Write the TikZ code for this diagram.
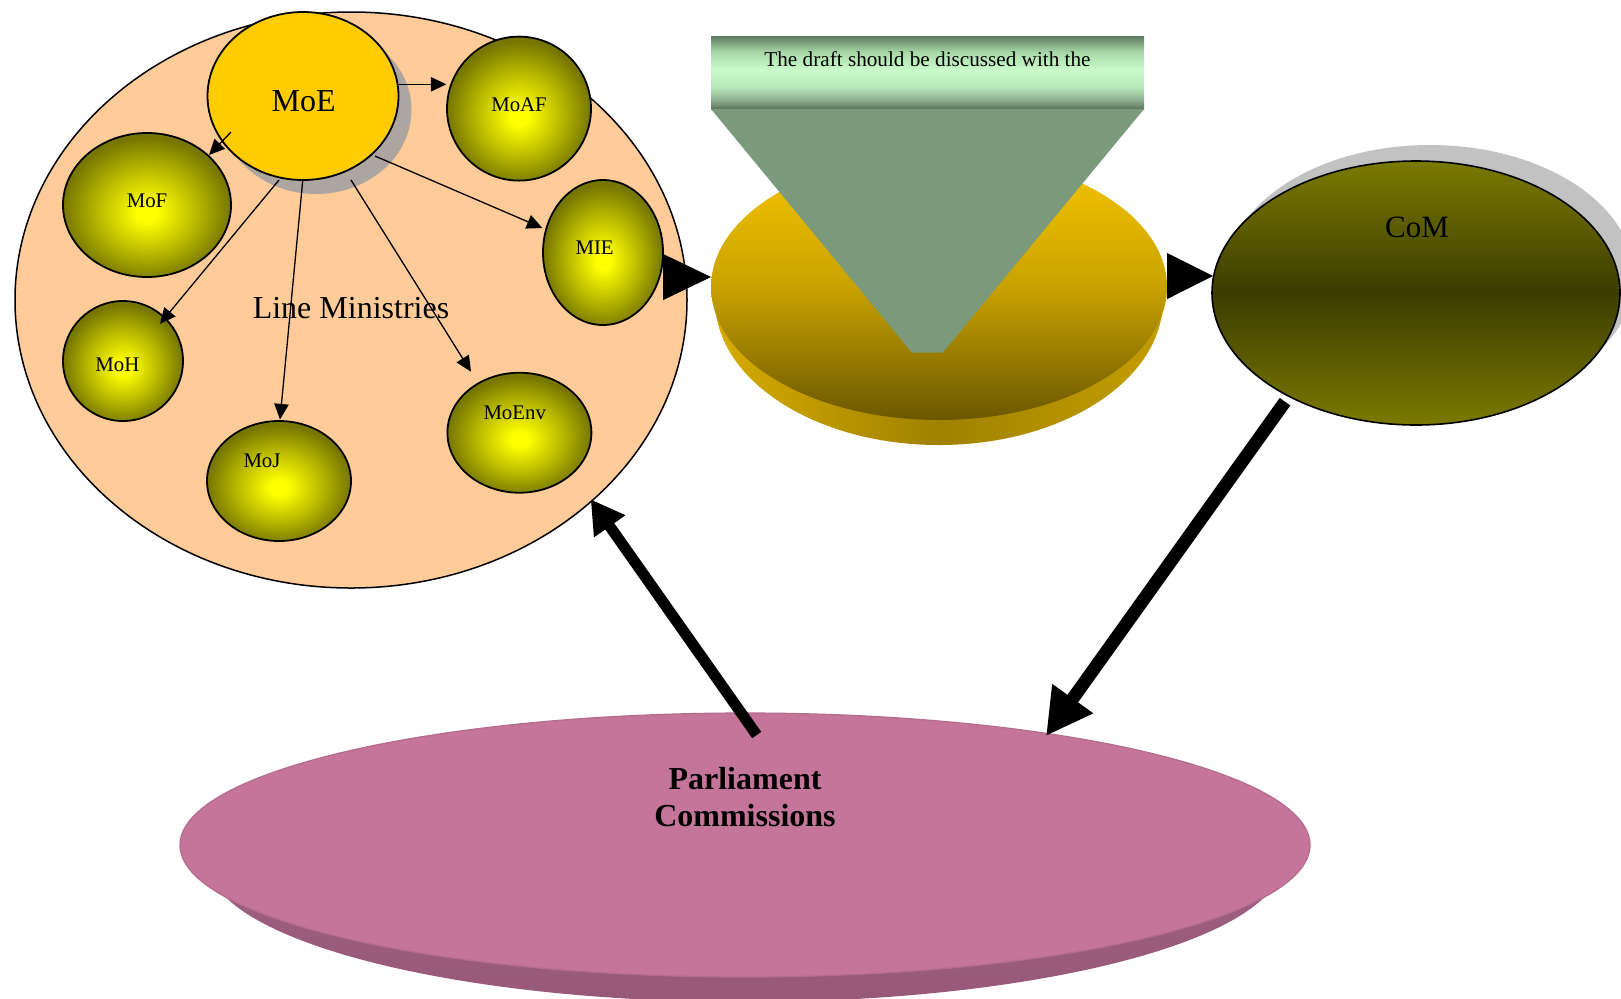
\documentclass[tikz,border=0pt]{standalone}
\usepackage{fontspec}
\setmainfont{Liberation Serif}
\usetikzlibrary{shapes.geometric,arrows.meta,calc}

% palette
\definecolor{peach}{HTML}{FFCC99}
\definecolor{moegold}{HTML}{FFCC00}
\definecolor{moeshadow}{HTML}{ADA5A0}
\definecolor{comshadow}{HTML}{C2C2C2}
\definecolor{minhi}{HTML}{FFFF00}
\definecolor{minmid}{HTML}{BDBD00}
\definecolor{minedge}{HTML}{767600}
\definecolor{funnelgreen}{HTML}{7A9A7B}
\definecolor{bnA}{HTML}{5C725D}
\definecolor{bnB}{HTML}{8CAC8C}
\definecolor{bnC}{HTML}{B8E8B8}
\definecolor{bnD}{HTML}{CAFBCA}
\definecolor{bnE}{HTML}{A8D8A8}
\definecolor{bnF}{HTML}{5E7A5E}
\definecolor{dtop}{HTML}{F7C600}
\definecolor{dmid}{HTML}{C9A200}
\definecolor{dbot}{HTML}{6B5700}
\definecolor{dsl}{HTML}{D6AC00}
\definecolor{dsm}{HTML}{A08200}
\definecolor{dsr}{HTML}{C49E00}
\definecolor{comedge}{HTML}{7A7A00}
\definecolor{commid}{HTML}{3C3C00}
\definecolor{parlface}{HTML}{C47599}
\definecolor{parledge}{HTML}{B46C8D}
\definecolor{parlsideA}{HTML}{A66888}
\definecolor{parlsideB}{HTML}{97587A}

% shadings
\pgfdeclareradialshading{minshade}{\pgfpoint{0bp}{-3bp}}{%
  color(0bp)=(minhi); color(3bp)=(minhi); color(14bp)=(minmid);
  color(25bp)=(minedge); color(50bp)=(minedge)}
\pgfdeclareverticalshading{bannershade}{100bp}{%
  color(0bp)=(bnA); color(25bp)=(bnA); color(31bp)=(bnB); color(40bp)=(bnC);
  color(52bp)=(bnD); color(64bp)=(bnE); color(75bp)=(bnF); color(100bp)=(bnF)}

\begin{document}
\begin{tikzpicture}[x=0.5pt, y=-0.5pt,
  every node/.style={inner sep=0pt, outer sep=0pt},
  oval/.style={ellipse, draw=black, line width=0.9pt},
  ministry/.style={oval, shading=minshade, shade},
  mtext/.style={font=\fontsize{10.4}{12}\selectfont, anchor=base},
  thinarrow/.style={line width=0.65pt, -{Triangle[length=7.8pt,width=7.2pt]}},
  wedge/.style={line width=0.5pt, -{Triangle[length=#1,width=23pt]}},
  bigarrow/.style={line width=#1, line cap=butt}
]
\useasboundingbox (0,0) rectangle (1621,998);
\fill[white] (0,0) rectangle (1621,998);
\clip (0,0) rectangle (1621,998);

% Parliament disk
\shade[top color=parlsideA, bottom color=parlsideB] (745,860) ellipse [x radius=538, y radius=142];
\node[ellipse, fill=parlface, draw=parledge, line width=0.6pt,
      minimum width=565pt, minimum height=132pt] (parl) at (745,845) {};
\node[font=\fontsize{16}{18.35}\selectfont\bfseries, align=center] (t-parl)
      at ($(parl)+(0,-48)$) {Parliament\\Commissions};

% Line ministries
\node[oval, fill=peach, line width=0.75pt, minimum width=336pt, minimum height=288pt] (lm) at (351,300) {};
\fill[moeshadow] (316,110) ellipse [x radius=95.5, y radius=84];
\node[oval, fill=moegold, minimum width=95.5pt, minimum height=84pt] (moe) at (303,96) {};
\node[ministry, minimum width=72pt, minimum height=72pt] (moaf) at (519,108.6) {};
\node[ministry, minimum width=84pt, minimum height=72pt] (mof) at (147,205) {};
\node[ministry, minimum width=60pt, minimum height=72.5pt] (mie) at (603,252.5) {};
\node[ministry, minimum width=60pt, minimum height=60pt] (moh) at (123,361) {};
\node[ministry, minimum width=72pt, minimum height=60pt] (moj) at (279,481) {};
\node[ministry, minimum width=72pt, minimum height=60pt] (moenv) at (519.4,432.7) {};

\node[font=\fontsize{16}{19}\selectfont, anchor=base] (t-lm) at ($(lm)+(0,18)$) {Line Ministries};
\node[font=\fontsize{16}{19}\selectfont, anchor=base] (t-moe) at ($(moe)+(0.7,15.7)$) {MoE};
\node[mtext] (t-moaf) at ($(moaf)+(0,2.4)$) {MoAF};
\node[mtext] (t-mof) at ($(mof)+(0,2)$) {MoF};
\node[mtext] (t-mie) at ($(mie)+(-8.4,2.3)$) {MIE};
\node[mtext] (t-moh) at ($(moh)+(-5.6,10)$) {MoH};
\node[mtext] (t-moj) at ($(moj)+(-17,-13.6)$) {MoJ};
\node[mtext] (t-moenv) at ($(moenv)+(-4.7,-13.2)$) {MoEnv};

\draw[thinarrow] ($(moe)+(95.7,-11.7)$) -- ($(moaf)+(-72.6,-24.3)$);
\draw[thinarrow] ($(moe)+(-72,36)$) -- ($(mof)+(62,-50)$);
\draw[thinarrow] ($(moe)+(-24,84)$) -- ($(moh)+(37,-37.2)$);
\draw[thinarrow] ($(moe)+(-0.3,85)$) -- ($(moj)+(1,-61.5)$);
\draw[thinarrow] ($(moe)+(48,84)$) -- ($(moenv)+(-48.4,-61)$);
\draw[thinarrow] ($(moe)+(72,60)$) -- ($(mie)+(-60.6,-24.5)$);

% Drafting disk with funnel and banner
\shade[left color=dsl, right color=dsr, middle color=dsm] (939,300) ellipse [x radius=224, y radius=145];
\node[ellipse, minimum width=228pt, minimum height=133pt,
      top color=dtop, bottom color=dbot, middle color=dmid] (disk) at (939,287) {};
\node[rectangle, minimum width=216.5pt, minimum height=36.5pt, shading=bannershade, shade] (banner) at (927.5,72.5) {};
\fill[funnelgreen] (banner.south west) -- (banner.south east)
  -- ($(disk)+(3.7,65.7)$) -- ($(disk)+(-27,65.7)$) -- cycle;
\node[font=\fontsize{10.6}{12}\selectfont, anchor=base] (t-banner) at ($(banner)+(0,-5.8)$)
  {The draft should be discussed with the};

% Council of Ministers
\fill[comshadow] (1430,277) ellipse [x radius=204, y radius=132];
\node[oval, line width=0.8pt, minimum width=204pt, minimum height=132pt,
      top color=comedge, bottom color=comedge, middle color=commid] (com) at (1416,293) {};
\node[font=\fontsize{15.5}{18}\selectfont, anchor=base] (t-com) at ($(com)+(1,-56)$) {CoM};

% Flow connectors
\draw[wedge=24pt] ($(mie)+(60,24.5)$) -- ($(disk)+(-228,-10)$);
\draw[wedge=23pt] ($(disk)+(228,-11)$) -- ($(com)+(-203,-17)$);
\draw[bigarrow=6.5pt, -{Triangle[length=23pt,width=23.5pt]}]
  ($(com)+(-131,108.7)$) -- ($(parl)+(301,-109)$);
\draw[bigarrow=5.5pt, -{Triangle[length=16.5pt,width=18pt]}]
  ($(parl)+(11.7,-110)$) -- ($(lm)+(239.7,199.3)$);
\end{tikzpicture}
\end{document}
